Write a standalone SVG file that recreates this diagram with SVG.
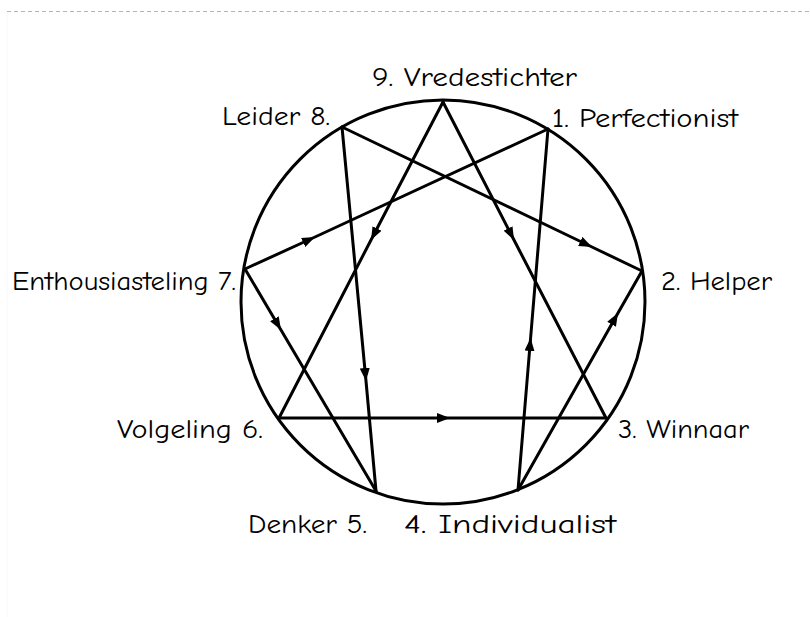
<svg xmlns="http://www.w3.org/2000/svg" width="810" height="617" viewBox="0 0 810 617">
<style>
.frame{stroke:#b4b4b4;stroke-width:1;stroke-dasharray:4 3;fill:none}
.edgeline{stroke:#f8f8f8;stroke-width:1;fill:none}
.ring{fill:none;stroke:#000;stroke-width:3}
.edge{fill:none;stroke:#000;stroke-width:3;stroke-linecap:round;stroke-linejoin:round;marker-mid:url(#ah)}
.lbl{font-family:"Comic Sans MS","Comic Neue",Lato,sans-serif;font-size:26px;fill:#000}
</style>
<defs>
<marker id="ah" viewBox="0 0 13 10" refX="13" refY="5" markerWidth="13" markerHeight="10" markerUnits="userSpaceOnUse" orient="auto">
<path d="M0,0 L13,5 L0,10 Z" fill="#000"/>
</marker>
</defs>
<rect width="810" height="617" fill="#fff"/>
<line class="frame" x1="7" y1="11.5" x2="810" y2="11.5"/>
<line class="edgeline" x1="7" y1="12" x2="7" y2="617"/>
<circle class="ring" cx="443" cy="302" r="202"/>
<g id="connectors">
<path class="edge" d="M443,102 L371,240 L279,418"/>
<path class="edge" d="M443,102 L514,240 L606,418"/>
<path class="edge" d="M279,418 L450,418 L606,418"/>
<path class="edge" d="M245,269 L315,237 L548,129"/>
<path class="edge" d="M342,127 L592,247 L642,271"/>
<path class="edge" d="M245,269 L281,330 L376,491"/>
<path class="edge" d="M342,127 L366,381 L376,491"/>
<path class="edge" d="M518,490 L530.6,338 L548,129"/>
<path class="edge" d="M518,490 L618,313 L642,271"/>
</g>
<g id="n9"><text class="lbl" x="372" y="86" textLength="205" lengthAdjust="spacingAndGlyphs">9. Vredestichter</text></g>
<g id="n8"><text class="lbl" x="222" y="125" textLength="108" lengthAdjust="spacingAndGlyphs">Leider 8.</text></g>
<g id="n1"><text class="lbl" x="552" y="127" textLength="186" lengthAdjust="spacingAndGlyphs">1. Perfectionist</text></g>
<g id="n7"><text class="lbl" x="12" y="290" textLength="224" lengthAdjust="spacingAndGlyphs">Enthousiasteling 7.</text></g>
<g id="n2"><text class="lbl" x="661" y="290" textLength="111" lengthAdjust="spacingAndGlyphs">2. Helper</text></g>
<g id="n6"><text class="lbl" x="117" y="438" textLength="146" lengthAdjust="spacingAndGlyphs">Volgeling 6.</text></g>
<g id="n3"><text class="lbl" x="618" y="438" textLength="131" lengthAdjust="spacingAndGlyphs">3. Winnaar</text></g>
<g id="n5"><text class="lbl" x="248" y="533" textLength="119" lengthAdjust="spacingAndGlyphs">Denker 5.</text></g>
<g id="n4"><text class="lbl" x="404" y="533" textLength="212" lengthAdjust="spacingAndGlyphs">4. Individualist</text></g>
</svg>
